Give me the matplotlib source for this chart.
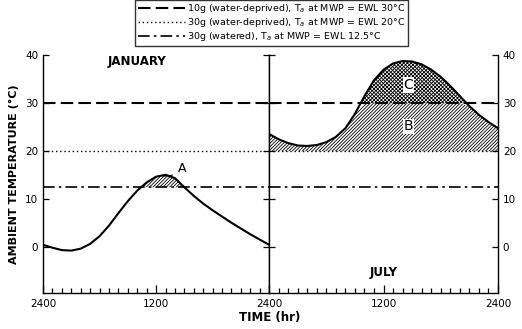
import numpy as np
import matplotlib
matplotlib.use("Agg")
import matplotlib.pyplot as plt

plt.rcParams["font.family"] = "DejaVu Sans"
plt.rcParams["hatch.linewidth"] = 0.6

# hourly ambient temperature, 2400 -> 2400 (deg C)
hours = np.arange(0, 25)
jan_temp = [0.5, -0.1, -0.6, -0.7, -0.3, 0.7, 2.3, 4.5, 7.1, 9.6, 11.8,
            13.5, 14.7, 15.1, 14.4, 12.5, 10.7, 9.1, 7.7, 6.4, 5.1,
            3.9, 2.7, 1.6, 0.5]
jul_temp = [23.6, 22.5, 21.7, 21.2, 21.1, 21.3, 21.9, 23.0, 24.8, 27.8,
            31.5, 34.8, 37.0, 38.3, 38.8, 38.7, 38.1, 37.0, 35.5, 33.6,
            31.5, 29.4, 27.6, 26.1, 24.8]

# ambient temperature at which metabolic water production = evaporative loss
thresholds = [30.0, 20.0, 12.5]
threshold_labels = [
    "10g (water-deprived), T$_a$ at MWP = EWL 30°C",
    "30g (water-deprived), T$_a$ at MWP = EWL 20°C",
    "30g (watered), T$_a$ at MWP = EWL 12.5°C",
]
line_styles = [dict(dashes=(6, 2.5), lw=1.5),
               dict(dashes=(1, 2), lw=1.0),
               dict(dashes=(7, 2.5, 1.5, 2.5), lw=1.2)]

fig = plt.figure(figsize=(5.22, 3.29), dpi=100)
ax1 = fig.add_axes([0.0824, 0.1085, 0.4332, 0.7235])
ax2 = fig.add_axes([0.5156, 0.1085, 0.4384, 0.7235], sharey=ax1)

for ax in (ax1, ax2):
    for t, lab, st in zip(thresholds, threshold_labels, line_styles):
        ax.axhline(t, color="black", label=lab, **st)
    ax.set_xlim(0, 24)
    ax.set_ylim(-9.6, 40)
    ax.spines["top"].set_visible(False)
    for s in ax.spines.values():
        s.set_linewidth(1.0)
    ax.set_xticks([0, 12, 24])
    ax.set_xticks(np.arange(0, 25, 1), minor=True)
    ax.tick_params(axis="x", which="minor", direction="in", length=3.5, width=0.9)
    ax.tick_params(axis="x", which="major", direction="in", length=6, width=0.9,
                   labelsize=7.5, pad=4)
    ax.set_yticks([0, 10, 20, 30, 40])
    ax.tick_params(axis="y", direction="in", length=4, width=0.9, labelsize=7.5,
                   left=True, right=True)

ax1.set_xticklabels(["2400", "1200", "2400"])
ax2.set_xticklabels(["", "1200", "2400"])
ax2.tick_params(axis="y", labelleft=False, labelright=True)

# January
jan = np.array(jan_temp)
ax1.plot(hours, jan, color="black", lw=1.5)
ax1.fill_between(hours, 12.5, jan, where=jan > 12.5, interpolate=True,
                 facecolor="none", edgecolor="black", hatch="//////////", lw=0)
ax1.annotate("A", xy=(12.4, 15.0), xytext=(14.3, 16.4), fontsize=9,
             ha="left", va="center",
             arrowprops=dict(arrowstyle="-", lw=0.8,
                             connectionstyle="arc3,rad=-0.3"))
ax1.text(10.0, 38.8, "JANUARY", fontsize=8.5, ha="center", va="center",
         fontweight="bold")

# July
jul = np.array(jul_temp)
ax2.plot(hours, jul, color="black", lw=1.5)
ax2.fill_between(hours, 20, np.minimum(jul, 30), where=jul > 20,
                 interpolate=True, facecolor="none", edgecolor="black",
                 hatch="//////////", lw=0)
ax2.fill_between(hours, 30, jul, where=jul > 30, interpolate=True,
                 facecolor="none", edgecolor="black", hatch="xxxxxxxxx", lw=0)
ax2.text(14.6, 25.2, "B", fontsize=10, ha="center", va="center",
         bbox=dict(facecolor="white", edgecolor="none", pad=0.5))
ax2.text(14.6, 33.8, "C", fontsize=10, ha="center", va="center",
         bbox=dict(facecolor="white", edgecolor="none", pad=0.5))
ax2.text(12.0, -5.3, "JULY", fontsize=8.5, ha="center", va="center",
         fontweight="bold")

ax1.set_ylabel("AMBIENT TEMPERATURE (°C)", fontsize=8, fontweight="bold")
fig.text(0.517, 0.035, "TIME (hr)", fontsize=8.5, fontweight="bold",
         ha="center", va="center")

handles, labels = ax1.get_legend_handles_labels()
leg = fig.legend(handles, labels, loc="upper center",
                 bbox_to_anchor=(0.52, 1.003), fontsize=6.8, frameon=True,
                 fancybox=False, edgecolor="black", handlelength=5,
                 borderpad=0.25, labelspacing=0.1, handletextpad=0.2,
                 borderaxespad=0.1)
leg.get_frame().set_linewidth(1.0)

fig.savefig("out.png", dpi=100)
